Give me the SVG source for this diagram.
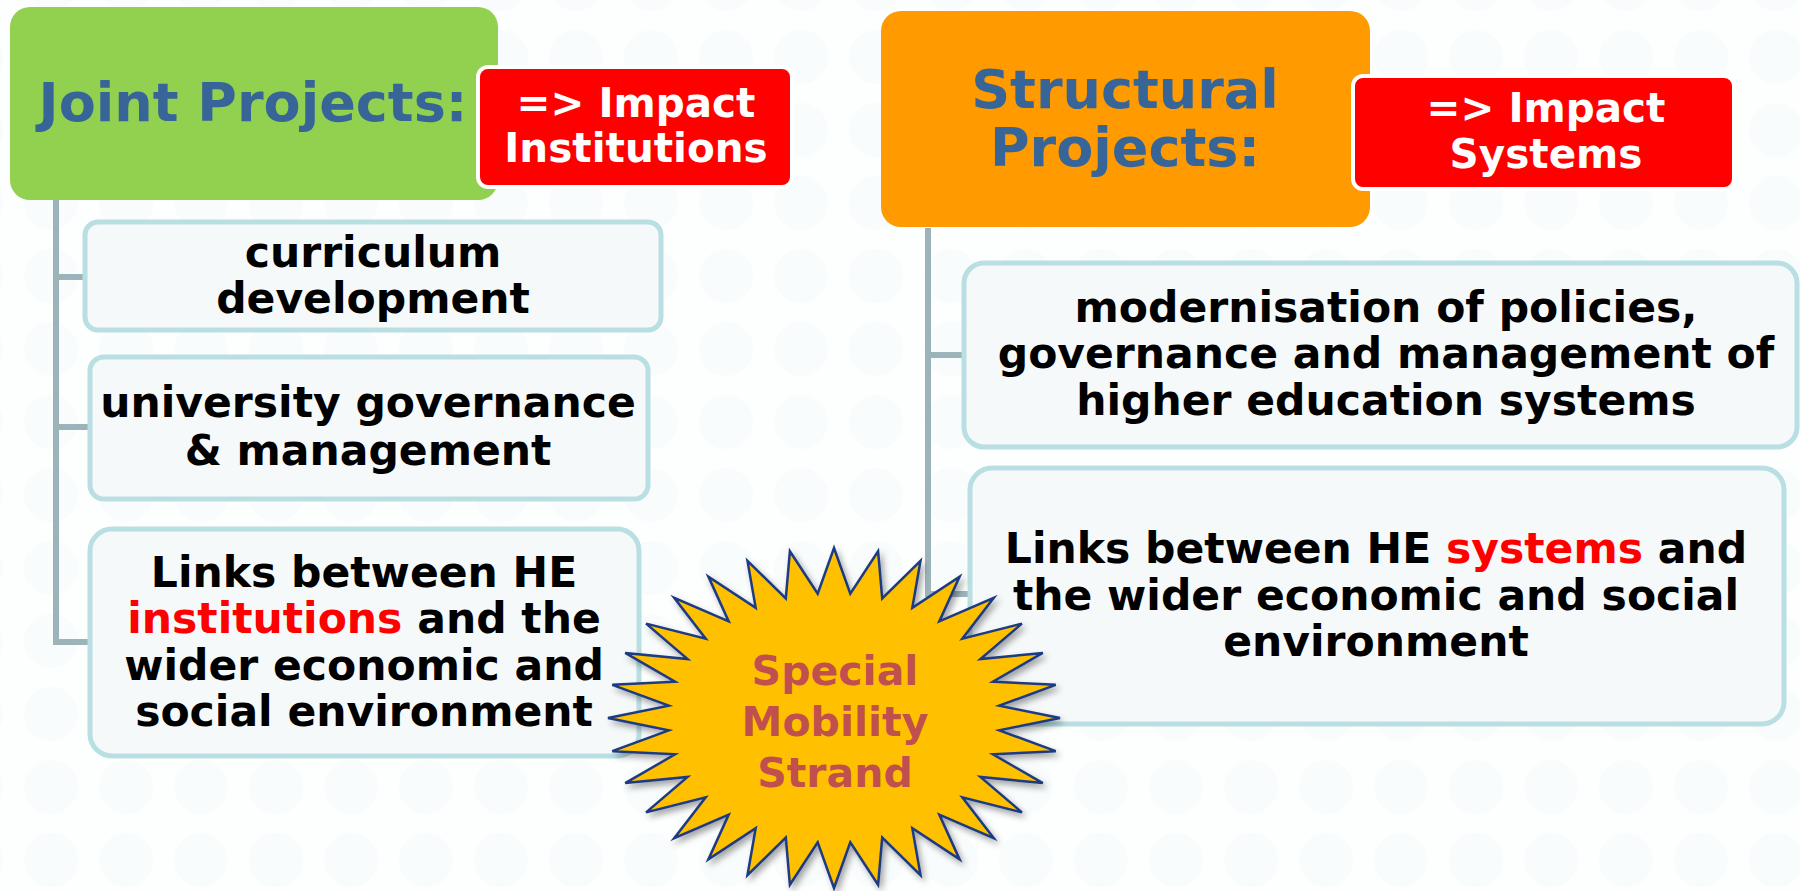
<svg xmlns="http://www.w3.org/2000/svg" width="1800" height="891" viewBox="0 0 1800 891">
<defs>
<style>
.bg{fill:#fdfefe}
.dot{fill:#eaf2f3}
.conn{fill:none;stroke:#9cb4b9;stroke-width:6}
.box{fill:#f6f9fa;stroke:#b9dfe3;stroke-width:5}
.red{fill:#ff0000;stroke:#ffffff;stroke-width:4}
.t{font-family:"DejaVu Sans","Verdana",sans-serif;font-weight:bold;text-anchor:middle}
.body{font-size:42.5px;fill:#000000}
.head{font-size:54px;fill:#386597}
.imp{font-size:40.5px;fill:#ffffff}
.hl{fill:#ff0000}
.star{fill:#ffc000;stroke:#1f3a80;stroke-width:2.5;stroke-linejoin:miter}
.startext{font-size:41px;fill:#c0504d}
</style>
<pattern id="bgp" x="14" y="20" width="75" height="73" patternUnits="userSpaceOnUse">
<circle cx="37" cy="37" r="27" class="dot"/>
</pattern>
<filter id="sh" x="-10%" y="-10%" width="125%" height="125%">
<feDropShadow dx="3" dy="4" stdDeviation="3" flood-color="#000000" flood-opacity="0.35"/>
</filter>
</defs>
<rect class="bg" x="0" y="0" width="1800" height="891"/>
<rect x="0" y="0" width="1800" height="891" fill="url(#bgp)" opacity="0.2"/>

<g id="connectors">
<path class="conn" d="M56,200 V642 H90 M56,277 H86 M56,427 H92"/>
<path class="conn" d="M928,228 V594 H971 M928,355 H966"/>
</g>

<g id="joint-projects">
<rect x="10" y="7" width="488" height="193" rx="20" fill="#92d050"/>
<text class="t head" x="253" y="121">Joint Projects:</text>
</g>

<g id="impact-institutions">
<rect class="red" x="478" y="67" width="314" height="120" rx="10"/>
<text class="t imp" x="636" y="117">=&gt; Impact</text>
<text class="t imp" x="636" y="162">Institutions</text>
</g>

<g id="curriculum">
<rect class="box" x="85" y="222" width="576" height="108" rx="13"/>
<text class="t body" x="373" y="267">curriculum</text>
<text class="t body" x="373" y="313">development</text>
</g>

<g id="university">
<rect class="box" x="90" y="357" width="558" height="142" rx="14"/>
<text class="t body" x="368" y="417">university governance</text>
<text class="t body" x="368" y="465">&amp; management</text>
</g>

<g id="links-institutions">
<rect class="box" x="90" y="529" width="549" height="227" rx="22"/>
<text class="t body" x="364" y="587">Links between HE</text>
<text class="t body" x="364" y="633"><tspan class="hl">institutions</tspan> and the</text>
<text class="t body" x="364" y="680">wider economic and</text>
<text class="t body" x="364" y="726">social environment</text>
</g>

<g id="structural-projects">
<rect x="881" y="11" width="489" height="216" rx="20" fill="#ff9a00"/>
<text class="t head" x="1125" y="108">Structural</text>
<text class="t head" x="1125" y="166">Projects:</text>
</g>

<g id="impact-systems">
<rect class="red" x="1353" y="76" width="381" height="113" rx="10"/>
<text class="t imp" x="1546" y="122">=&gt; Impact</text>
<text class="t imp" x="1546" y="168">Systems</text>
</g>

<g id="modernisation">
<rect class="box" x="964" y="263" width="833" height="184" rx="20"/>
<text class="t body" x="1386" y="322">modernisation of policies,</text>
<text class="t body" x="1386" y="368">governance and management of</text>
<text class="t body" x="1386" y="415">higher education systems</text>
</g>

<g id="links-systems">
<rect class="box" x="970" y="468" width="814" height="256" rx="22"/>
<text class="t body" x="1376" y="563">Links between HE <tspan class="hl">systems</tspan> and</text>
<text class="t body" x="1376" y="610">the wider economic and social</text>
<text class="t body" x="1376" y="656">environment</text>
</g>

<g id="special-mobility-strand">
<polygon class="star" filter="url(#sh)" points="834,548 850.3,593.6 878.1,551.3 882.2,598.4 920.5,560.9 912.3,607.8 959.6,576.6 939.3,621.4 993.8,597.8 962.3,638.7 1021.9,623.6 980.4,659.1 1042.8,652.9 992.9,681.7 1055.7,684.8 999.2,705.7 1060,718 999.2,730.3 1055.7,751.2 992.9,754.3 1042.8,783.1 980.4,776.9 1021.9,812.4 962.3,797.3 993.8,838.2 939.3,814.6 959.6,859.4 912.3,828.2 920.5,875.1 882.2,837.6 878.1,884.7 850.3,842.4 834,888 817.7,842.4 789.9,884.7 785.8,837.6 747.5,875.1 755.7,828.2 708.4,859.4 728.7,814.6 674.2,838.2 705.7,797.3 646.1,812.4 687.6,776.9 625.2,783.1 675.1,754.3 612.3,751.2 668.8,730.3 608,718 668.8,705.7 612.3,684.8 675.1,681.7 625.2,652.9 687.6,659.1 646.1,623.6 705.7,638.7 674.2,597.8 728.7,621.4 708.4,576.6 755.7,607.8 747.5,560.9 785.8,598.4 789.9,551.3 817.7,593.6"/>
<text class="t startext" x="835" y="685">Special</text>
<text class="t startext" x="835" y="736">Mobility</text>
<text class="t startext" x="835" y="787">Strand</text>
</g>
</svg>
